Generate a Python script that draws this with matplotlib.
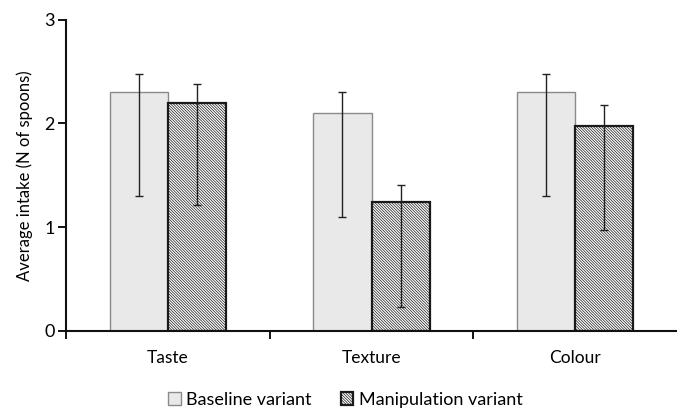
import numpy as np
import matplotlib.pyplot as plt

plt.rcParams['font.family'] = ['Lato', 'DejaVu Sans']
plt.rcParams['hatch.linewidth'] = 0.5

# Average intake per attribute, with asymmetric error bars (lower / upper ends)
categories = ['Taste', 'Texture', 'Colour']
baseline = [2.30, 2.10, 2.30]
baseline_low = [1.30, 1.10, 1.30]
baseline_high = [2.48, 2.30, 2.48]
manipulation = [2.20, 1.24, 1.98]
manipulation_low = [1.21, 0.23, 0.97]
manipulation_high = [2.38, 1.41, 2.18]

x = np.arange(len(categories))
w = 0.285

fig = plt.figure(figsize=(6.77, 4.12), dpi=100)
ax = fig.add_axes([0.0975, 0.197, 0.9025, 0.755])

b_err = [np.array(baseline) - np.array(baseline_low),
         np.array(baseline_high) - np.array(baseline)]
m_err = [np.array(manipulation) - np.array(manipulation_low),
         np.array(manipulation_high) - np.array(manipulation)]

ax.bar(x - w / 2, baseline, w, color='#e9e9e9', edgecolor='#8a8a8a',
       linewidth=1.0, label='Baseline variant', zorder=2)
ax.bar(x + w / 2, manipulation, w, color='white', edgecolor='#1a1a1a',
       linewidth=1.6, hatch='\\' * 12, label='Manipulation variant', zorder=2)

ax.errorbar(x - w / 2, baseline, yerr=b_err, fmt='none', ecolor='#222222',
            elinewidth=1.0, capsize=3, capthick=1.0, zorder=3)
ax.errorbar(x + w / 2, manipulation, yerr=m_err, fmt='none', ecolor='#222222',
            elinewidth=1.0, capsize=3, capthick=1.0, zorder=3)

ax.set_xlim(-0.5, 2.5)
ax.set_ylim(0, 3)
ax.set_yticks([0, 1, 2, 3])
ax.set_xticks(x)
ax.set_xticklabels(categories, fontsize=12.5)
ax.set_xticks([-0.5, 0.5, 1.5], minor=True)
ax.tick_params(axis='x', which='major', length=0, pad=14)
ax.tick_params(axis='x', which='minor', length=6, width=1.3, direction='out')
ax.tick_params(axis='y', length=6, width=1.3, labelsize=13, pad=2)
ax.set_ylabel('Average intake (N of spoons)', fontsize=12, labelpad=8)

for s in ['top', 'right']:
    ax.spines[s].set_visible(False)
for s in ['left', 'bottom']:
    ax.spines[s].set_linewidth(1.5)
    ax.spines[s].set_color('#111111')

fig.legend(loc='lower center', bbox_to_anchor=(0.51, -0.03), ncol=2, frameon=False,
           fontsize=13, handlelength=0.7, handleheight=0.7, handletextpad=0.3,
           columnspacing=1.6)

fig.savefig('out.png', dpi=100)
